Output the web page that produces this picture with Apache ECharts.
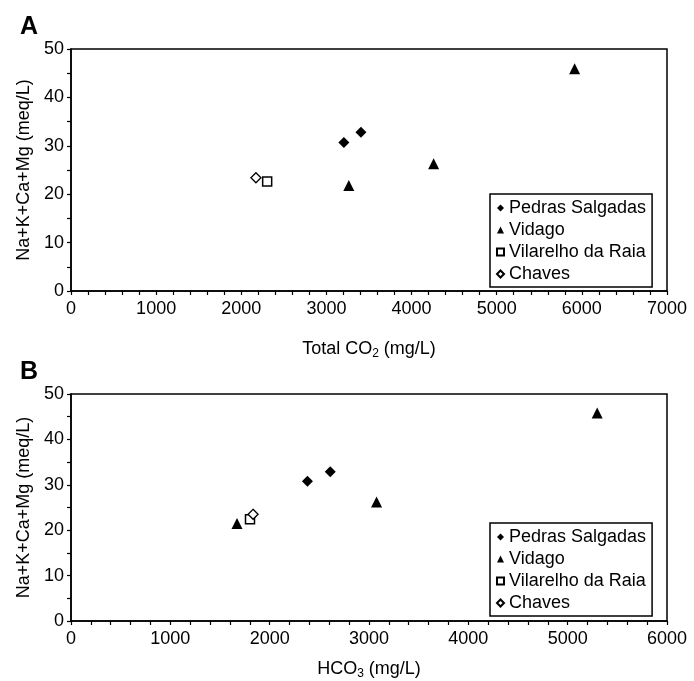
<!DOCTYPE html>
<html>
<head>
<meta charset="utf-8">
<script src="https://cdn.jsdelivr.net/npm/echarts@6/dist/echarts.min.js"></script>
<style>html,body{margin:0;padding:0;background:#fff;}#c{width:694px;height:681px;}</style>
</head>
<body>
<div id="c"></div>
<script>
// ---- data ----
const seriesNames = ['Pedras Salgadas', 'Vidago', 'Vilarelho da Raia', 'Chaves'];
// Panel A: Total CO2 (mg/L) vs Na+K+Ca+Mg (meq/L)
const pedrasA = [[3205, 30.7], [3405, 32.8]];
const vidagoA = [[3263, 21.8], [4259, 26.3], [5915, 45.9]];
const vilarelhoA = [[2304, 22.6]];
const chavesA = [[2172, 23.4]];
// Panel B: HCO3 (mg/L) vs Na+K+Ca+Mg (meq/L)
const pedrasB = [[2380, 30.8], [2610, 32.9]];
const vidagoB = [[1671, 21.5], [3076, 26.2], [5297, 45.8]];
const vilarelhoB = [[1802, 22.4]];
const chavesB = [[1833, 23.5]];
// axis ranges
const xRangeA = [0, 7000];
const xRangeB = [0, 6000];
const yRange = [0, 50];

const FONT = 'Liberation Sans';
const chart = echarts.init(document.getElementById('c'), null, {renderer: 'canvas'});

function xAxis(gridIndex, range, nameRich, nameGap) {
  return {
    type: 'value', gridIndex, min: range[0], max: range[1], interval: 1000,
    name: nameRich, nameLocation: 'middle', nameGap,
    nameTextStyle: {
      fontFamily: FONT, fontSize: 18, color: '#000',
      rich: {
        a: {fontFamily: FONT, fontSize: 18, color: '#000'},
        s: {fontFamily: FONT, fontSize: 12, color: '#000', padding: [9, 0, 0, 0]}
      }
    },
    axisLine: {show: true, lineStyle: {color: '#000', width: 1.5}},
    axisTick: {show: true, inside: false, length: 4, lineStyle: {color: '#000', width: 1.2}},
    minorTick: {show: true, splitNumber: 5, length: 4, lineStyle: {color: '#000', width: 1.2}},
    axisLabel: {fontFamily: FONT, fontSize: 18, color: '#000', margin: 9, formatter: v => String(v)},
    splitLine: {show: false}
  };
}
function yAxis(gridIndex) {
  return {
    type: 'value', gridIndex, min: yRange[0], max: yRange[1], interval: 10,
    name: 'Na+K+Ca+Mg (meq/L)', nameLocation: 'middle', nameGap: 38,
    nameTextStyle: {fontFamily: FONT, fontSize: 18, color: '#000'},
    axisLine: {show: true, lineStyle: {color: '#000', width: 1.5}},
    axisTick: {show: true, inside: false, length: 4, lineStyle: {color: '#000', width: 1.2}},
    minorTick: {show: true, splitNumber: 2, length: 4, lineStyle: {color: '#000', width: 1.2}},
    axisLabel: {fontFamily: FONT, fontSize: 18, color: '#000', margin: 7},
    splitLine: {show: false}
  };
}
function legend(top) {
  return {
    data: seriesNames, orient: 'vertical', left: 490, top,
    borderColor: '#000', borderWidth: 1.5, padding: [5, 6, 4, 6],
    itemGap: 4, itemWidth: 7, itemHeight: 7, selectedMode: false,
    textStyle: {fontFamily: FONT, fontSize: 18, color: '#000'}
  };
}
function series(name, data, xi) {
  const styles = {
    'Pedras Salgadas': {symbol: 'diamond', size: 11, itemStyle: {color: '#000', opacity: 1}},
    'Vidago': {symbol: 'triangle', size: 11, itemStyle: {color: '#000', opacity: 1}},
    'Vilarelho da Raia': {symbol: 'rect', size: 9, itemStyle: {color: '#fff', borderColor: '#000', borderWidth: 1.5, opacity: 1}},
    'Chaves': {symbol: 'diamond', size: 10, itemStyle: {color: '#fff', borderColor: '#000', borderWidth: 1.3, opacity: 1}}
  };
  const st = styles[name];
  return {
    type: 'scatter', name, data, xAxisIndex: xi, yAxisIndex: xi,
    symbol: st.symbol, symbolSize: st.size, itemStyle: st.itemStyle,
    emphasis: {disabled: true}, animation: false
  };
}

chart.setOption({
  backgroundColor: '#fff',
  animation: false,
  title: [
    {text: 'A', left: 15, top: 10, textStyle: {fontFamily: FONT, fontSize: 25, fontWeight: 'bold', color: '#000'}},
    {text: 'B', left: 15, top: 355, textStyle: {fontFamily: FONT, fontSize: 25, fontWeight: 'bold', color: '#000'}}
  ],
  grid: [
    {left: 71, top: 49, width: 596, height: 242, show: true, borderColor: '#000', borderWidth: 1.5, backgroundColor: 'transparent'},
    {left: 71, top: 394, width: 596, height: 227, show: true, borderColor: '#000', borderWidth: 1.5, backgroundColor: 'transparent'}
  ],
  xAxis: [
    xAxis(0, xRangeA, '{a|Total CO}{s|2}{a| (mg/L)}', 48),
    xAxis(1, xRangeB, '{a|HCO}{s|3}{a| (mg/L)}', 38)
  ],
  yAxis: [yAxis(0), yAxis(1)],
  legend: [legend(194), legend(523)],
  series: [
    series('Pedras Salgadas', pedrasA, 0),
    series('Vidago', vidagoA, 0),
    series('Vilarelho da Raia', vilarelhoA, 0),
    series('Chaves', chavesA, 0),
    series('Pedras Salgadas', pedrasB, 1),
    series('Vidago', vidagoB, 1),
    series('Vilarelho da Raia', vilarelhoB, 1),
    series('Chaves', chavesB, 1)
  ]
});
</script>
</body>
</html>
